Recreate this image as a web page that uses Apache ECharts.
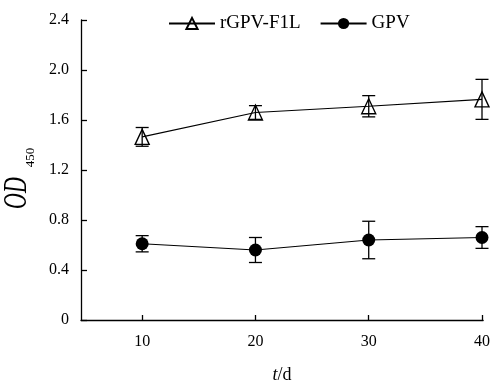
<!DOCTYPE html>
<html><head><meta charset="utf-8">
<script src="https://cdn.jsdelivr.net/npm/echarts@6/dist/echarts.min.js"></script>
<style>html,body{margin:0;padding:0;background:#fff}#c{width:493px;height:389px}</style>
</head><body><div id="c"></div>
<script>
const days = [10, 20, 30, 40];
const rgpvMean = [1.465, 1.66, 1.71, 1.765];
const rgpvErr = [0.075, 0.055, 0.085, 0.16];
const gpvMean = [0.61, 0.56, 0.64, 0.66];
const gpvErr = [0.065, 0.10, 0.15, 0.087];

const font = 'Liberation Serif';
const chart = echarts.init(document.getElementById('c'), null, {renderer: 'canvas'});

function errData(mean, err) {
  return days.map((d, i) => [d, mean[i] - err[i], mean[i] + err[i]]);
}
function errSeries(mean, err) {
  return {
    type: 'custom',
    silent: true,
    z: 1,
    data: errData(mean, err),
    encode: {x: 0, y: [1, 2]},
    renderItem: function (params, api) {
      const x = api.value(0);
      const lo = api.coord([x, api.value(1)]);
      const hi = api.coord([x, api.value(2)]);
      const hw = 6.5;
      const st = {stroke: '#000', lineWidth: 1.3};
      return {type: 'group', children: [
        {type: 'line', shape: {x1: lo[0], y1: lo[1], x2: hi[0], y2: hi[1]}, style: st},
        {type: 'line', shape: {x1: lo[0] - hw, y1: lo[1], x2: lo[0] + hw, y2: lo[1]}, style: st},
        {type: 'line', shape: {x1: hi[0] - hw, y1: hi[1], x2: hi[0] + hw, y2: hi[1]}, style: st}
      ]};
    }
  };
}

chart.setOption({
  animation: false,
  backgroundColor: '#fff',
  grid: {left: 81, right: 9, top: 20, bottom: 62, containLabel: false},
  legend: {
    top: 9, left: 163,
    itemWidth: 46, itemHeight: 14, itemGap: 19,
    textStyle: {fontFamily: font, fontSize: 19, color: '#000'},
    data: ['rGPV-F1L', 'GPV']
  },
  graphic: [
    {
      type: 'text', x: 17.5, y: 193, rotation: Math.PI / 2, scaleX: 1, scaleY: 1.5,
      style: {text: 'OD', fontFamily: font, fontStyle: 'italic', fontSize: 22, fill: '#000',
        textAlign: 'center', textVerticalAlign: 'middle'}
    },
    {
      type: 'text', x: 31, y: 157.5, rotation: Math.PI / 2,
      style: {text: '450', fontFamily: font, fontSize: 13, fill: '#000',
        textAlign: 'center', textVerticalAlign: 'middle'}
    }
  ],
  xAxis: {
    type: 'value', min: 4.6, max: 40.1,
    axisLine: {lineStyle: {color: '#000', width: 1.3}},
    axisTick: {inside: true, length: 5, customValues: days, lineStyle: {color: '#000', width: 1.3}},
    axisLabel: {customValues: days, margin: 14, fontFamily: font, fontSize: 16, color: '#000'},
    splitLine: {show: false},
    name: '{i|t}{n|/d}', nameLocation: 'middle', nameGap: 46,
    nameTextStyle: {rich: {
      i: {fontFamily: font, fontStyle: 'italic', fontSize: 18, color: '#000'},
      n: {fontFamily: font, fontSize: 18, color: '#000'}
    }}
  },
  yAxis: {
    type: 'value', min: 0, max: 2.4, interval: 0.4,
    axisLine: {show: true, lineStyle: {color: '#000', width: 1.3}},
    axisTick: {show: true, inside: true, length: 6, lineStyle: {color: '#000', width: 1.3}},
    axisLabel: {margin: 12, fontFamily: font, fontSize: 16, color: '#000',
      formatter: v => v === 0 ? '0' : v.toFixed(1)},
    splitLine: {show: false}
  },
  series: [
    errSeries(rgpvMean, rgpvErr),
    errSeries(gpvMean, gpvErr),
    {
      name: 'rGPV-F1L', type: 'line', z: 3,
      data: days.map((d, i) => [d, rgpvMean[i]]),
      symbol: 'triangle', symbolSize: [14, 15],
      itemStyle: {color: 'rgba(255,255,255,0)', borderColor: '#000', borderWidth: 1.4},
      lineStyle: {color: '#000', width: 1.2}
    },
    {
      name: 'GPV', type: 'line', z: 3,
      data: days.map((d, i) => [d, gpvMean[i]]),
      symbol: 'circle', symbolSize: 13,
      itemStyle: {color: '#000', borderColor: '#000', borderWidth: 0},
      lineStyle: {color: '#000', width: 1.2}
    }
  ]
});
</script></body></html>
